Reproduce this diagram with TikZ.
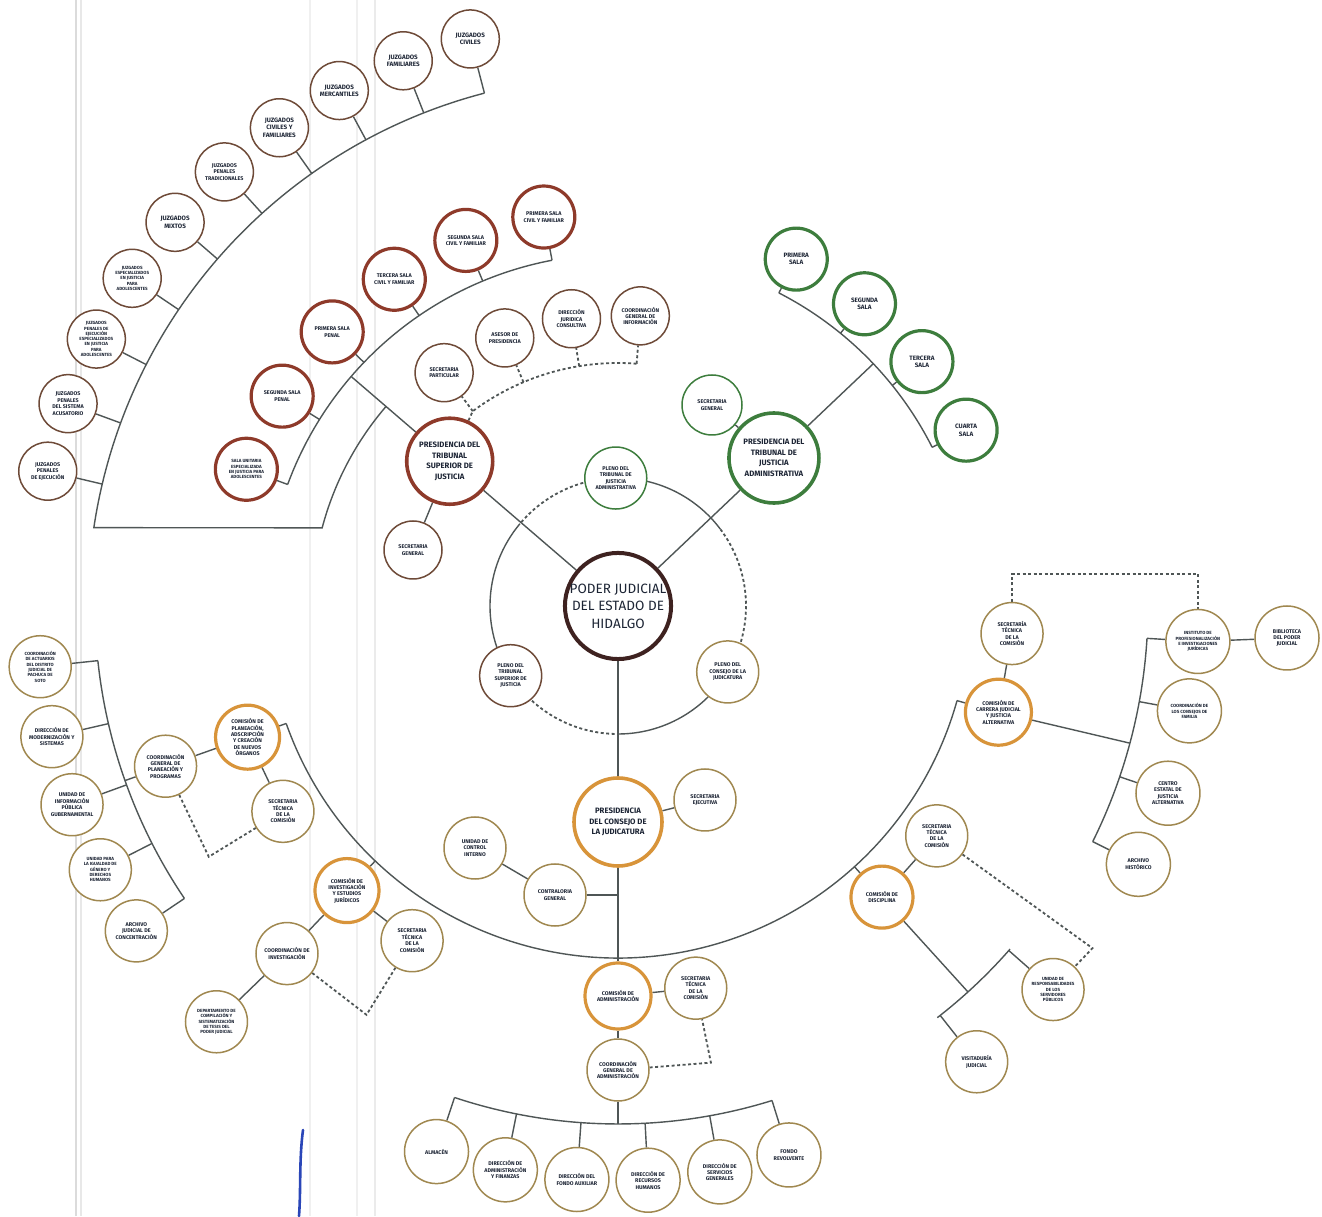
\documentclass[tikz,border=0pt]{standalone}
\usepackage{fontspec}
\setmainfont{Fira Sans}
\usetikzlibrary{calc}
\pgfdeclarelayer{bg}
\pgfsetlayers{bg,main}
\definecolor{cent}{HTML}{3E2220}
\definecolor{tsj}{HTML}{8E3A2A}
\definecolor{brn}{HTML}{6E4A38}
\definecolor{tja}{HTML}{3D7D3D}
\definecolor{cjo}{HTML}{D8943A}
\definecolor{cjl}{HTML}{A08850}
\definecolor{lin}{HTML}{4F5656}
\definecolor{txt}{HTML}{1D2535}
\definecolor{blu}{HTML}{2A46B8}
\newcommand{\ftA}{\fontsize{6.3}{7.4}\selectfont\bfseries}
\newcommand{\ftB}{\fontsize{5.4}{6.4}\selectfont\bfseries}
\newcommand{\ftC}{\fontsize{4.5}{5.3}\selectfont\bfseries}
\newcommand{\ftP}{\fontsize{7.8}{10.5}\selectfont\bfseries}
\newcommand{\ftK}{\fontsize{13.5}{17.5}\selectfont}
\tikzset{
 base/.style={circle, draw, fill=white, inner sep=0pt, align=center, text=txt, font=\ftA, line width=1.5pt, minimum size=60pt},
 juz/.style={base, draw=brn, minimum size=58pt},
 tsjs/.style={base, draw=tsj, line width=3.2pt, minimum size=62pt, font=\ftB},
 tsjt/.style={base, draw=brn, minimum size=58pt, font=\ftB},
 tjas/.style={base, draw=tja, line width=3.2pt, minimum size=62pt},
 tjat/.style={base, draw=tja, font=\ftB},
 cjc/.style={base, draw=cjo, line width=3.2pt, minimum size=64pt, font=\ftB},
 cjt/.style={base, draw=cjl, minimum size=62pt, font=\ftB},
 pres/.style={base, line width=3.6pt, font=\ftP},
 conn/.style={draw=lin, line width=1.4pt},
 dsh/.style={draw=lin, line width=1.8pt, dash pattern=on 3pt off 2.5pt},
 scan/.style={line width=2pt},
}
\begin{document}
\begin{tikzpicture}[x=1pt,y=1pt]
\useasboundingbox (0,0) rectangle (1322,1216);
\begin{pgfonlayer}{bg}
\fill[white] (0,0) rectangle (1322,1216);
\draw[scan, black!14] (76,0) -- (76,1216);
\draw[scan, black!9] (81,0) -- (81,1216);
\draw[scan, black!6] (310,0) -- (310,1216);
\draw[scan, black!6] (357,0) -- (357,1216);
\draw[scan, black!8] (375,0) -- (375,1216);
\end{pgfonlayer}
\coordinate (C) at (618,610);

% ---------- centre and plenos
\node[base, draw=cent, line width=4pt, minimum size=106pt, font=\ftK] (cen) at (C) {PODER JUDICIAL\\DEL ESTADO DE\\HIDALGO};
\node[tjat, minimum size=62pt] (pltja) at ($(C)+(91:128)$) {PLENO DEL\\TRIBUNAL DE\\JUSTICIA\\ADMINISTRATIVA};
\node[base, draw=brn, font=\ftB, minimum size=62pt] (pltsj) at ($(C)+(213:128)$) {PLENO DEL\\TRIBUNAL\\SUPERIOR DE\\JUSTICIA};
\node[cjt] (plcj) at ($(C)+(329:128)$) {PLENO DEL\\CONSEJO DE LA\\JUDICATURA};

% ---------- Tribunal Superior de Justicia
\node[pres, draw=tsj, minimum size=86pt] (ptsj) at ($(C)+(139.3:222)$) {PRESIDENCIA DEL\\TRIBUNAL\\SUPERIOR DE\\JUSTICIA};
\node[tsjt] (tsjsg) at (413,666) {SECRETARIA\\GENERAL};
\node[tsjt] (tsjsp) at ($(C)+(126.7:291)$) {SECRETARIA\\PARTICULAR};
\node[tsjt] (tsjas) at ($(C)+(112.9:291)$) {ASESOR DE\\PRESIDENCIA};
\node[tsjt] (tsjdj) at ($(C)+(99.2:291)$) {DIRECCIÓN\\JURIDICA\\CONSULTIVA};
\node[tsjt] (tsjci) at ($(C)+(85.6:291)$) {COORDINACIÓN\\GENERAL DE\\INFORMACIÓN};
\node[tsjs] (sa1) at ($(C)+(100.8:396)$) {PRIMERA SALA\\CIVIL Y FAMILIAR};
\node[tsjs] (sa2) at ($(C)+(112.6:396)$) {SEGUNDA SALA\\CIVIL Y FAMILIAR};
\node[tsjs] (sa3) at ($(C)+(124.4:396)$) {TERCERA SALA\\CIVIL Y FAMILIAR};
\node[tsjs] (sa4) at ($(C)+(136.2:396)$) {PRIMERA SALA\\PENAL};
\node[tsjs] (sa5) at ($(C)+(148:396)$) {SEGUNDA SALA\\PENAL};
\node[tsjs, font=\ftC] (sa6) at ($(C)+(159.8:396)$) {SALA UNITARIA\\ESPECIALIZADA\\EN JUSTICIA PARA\\ADOLESCENTES};
\node[juz] (j1) at ($(C)+(104.6:586)$) {JUZGADOS\\CIVILES};
\node[juz] (j2) at ($(C)+(111.5:586)$) {JUZGADOS\\FAMILIARES};
\node[juz] (j3) at ($(C)+(118.4:586)$) {JUZGADOS\\MERCANTILES};
\node[juz] (j4) at ($(C)+(125.3:586)$) {JUZGADOS\\CIVILES Y\\FAMILIARES};
\node[juz, font=\ftB] (j5) at ($(C)+(132.2:586)$) {JUZGADOS\\PENALES\\TRADICIONALES};
\node[juz] (j6) at ($(C)+(139.1:586)$) {JUZGADOS\\MIXTOS};
\node[juz, font=\ftC] (j7) at ($(C)+(146:586)$) {JUZGADOS\\ESPECIALIZADOS\\EN JUSTICIA\\PARA\\ADOLESCENTES};
\node[juz, font=\ftC] (j8) at ($(C)+(152.9:586)$) {JUZGADOS\\PENALES DE\\EJECUCIÓN\\ESPECIALIZADOS\\EN JUSTICIA\\PARA\\ADOLESCENTES};
\node[juz, font=\ftB] (j9) at ($(C)+(159.8:586)$) {JUZGADOS\\PENALES\\DEL SISTEMA\\ACUSATORIO};
\node[juz, font=\ftB] (j10) at ($(C)+(166.7:586)$) {JUZGADOS\\PENALES\\DE EJECUCIÓN};

% ---------- Tribunal de Justicia Administrativa
\node[pres, draw=tja, minimum size=90pt] (ptja) at ($(C)+(43.5:215)$) {PRESIDENCIA DEL\\TRIBUNAL DE\\JUSTICIA\\ADMINISTRATIVA};
\node[tjat] (tjasg) at (712,811) {SECRETARIA\\GENERAL};
\node[tjas] (ta1) at ($(C)+(62.8:390)$) {PRIMERA\\SALA};
\node[tjas] (ta2) at ($(C)+(50.8:390)$) {SEGUNDA\\SALA};
\node[tjas] (ta3) at ($(C)+(38.8:390)$) {TERCERA\\SALA};
\node[tjas] (ta4) at ($(C)+(26.8:390)$) {CUARTA\\SALA};

% ---------- Consejo de la Judicatura
\node[pres, draw=cjo, minimum size=88pt] (pcj) at ($(C)+(270:216)$) {PRESIDENCIA\\DEL CONSEJO DE\\LA JUDICATURA};
\node[cjt] (sej) at (705,416) {SECRETARIA\\EJECUTIVA};
\node[cjt] (contra) at (555,321) {CONTRALORIA\\GENERAL};
\node[cjt] (uci) at (475,368) {UNIDAD DE\\CONTROL\\INTERNO};
\coordinate (jc) at (618,321);

\node[cjc] (cplan) at ($(C)+(199.5:393)$) {COMISIÓN DE\\PLANEACIÓN,\\ADSCRIPCIÓN\\Y CREACIÓN\\DE NUEVOS\\ÓRGANOS};
\node[cjt] (cplsec) at ($(C)+(211.5:393)$) {SECRETARIA\\TÉCNICA\\DE LA\\COMISIÓN};
\node[cjt] (cgpp) at ($(C)+(199.5:480)$) {COORDINACIÓN\\GENERAL DE\\PLANEACIÓN Y\\PROGRAMAS};
\node[cjt, font=\ftC] (pb1) at ($(C)+(186:581)$) {COORDINACIÓN\\DE ACTUARIOS\\DEL DISTRITO\\JUDICIAL DE\\PACHUCA DE\\SOTO};
\node[cjt] (pb2) at ($(C)+(193:581)$) {DIRECCIÓN DE\\MODERNIZACIÓN Y\\SISTEMAS};
\node[cjt] (pb3) at ($(C)+(200:581)$) {UNIDAD DE\\INFORMACIÓN\\PÚBLICA\\GUBERNAMENTAL};
\node[cjt, font=\ftC] (pb4) at ($(C)+(207:581)$) {UNIDAD PARA\\LA IGUALDAD DE\\GÉNERO Y\\DERECHOS\\HUMANOS};
\node[cjt] (pb5) at ($(C)+(214:581)$) {ARCHIVO\\JUDICIAL DE\\CONCENTRACIÓN};

\node[cjc] (cinv) at ($(C)+(226.4:393)$) {COMISIÓN DE\\INVESTIGACIÓN\\Y ESTUDIOS\\JURÍDICOS};
\node[cjt] (cinvsec) at ($(C)+(238.4:393)$) {SECRETARIA\\TÉCNICA\\DE LA\\COMISIÓN};
\node[cjt] (coordinv) at ($(C)+(226.4:480)$) {COORDINACIÓN DE\\INVESTIGACIÓN};
\node[cjt, font=\ftC] (dep) at ($(C)+(226:578)$) {DEPARTAMENTO DE\\COMPILACIÓN Y\\SISTEMATIZACIÓN\\DE TESIS DEL\\PODER JUDICIAL};

\node[cjc, minimum size=66pt] (cadm) at ($(C)+(270:390)$) {COMISIÓN DE\\ADMINISTRACIÓN};
\node[cjt] (cadmsec) at ($(C)+(281.5:390)$) {SECRETARIA\\TÉCNICA\\DE LA\\COMISIÓN};
\node[cjt] (coordadm) at ($(C)+(270:464)$) {COORDINACIÓN\\GENERAL DE\\ADMINISTRACIÓN};
\node[cjt, minimum size=64pt] (ab1) at ($(C)+(251.6:575)$) {ALMACÉN};
\node[cjt, minimum size=64pt] (ab2) at ($(C)+(258.7:575)$) {DIRECCIÓN DE\\ADMINISTRACIÓN\\Y FINANZAS};
\node[cjt, minimum size=64pt] (ab3) at ($(C)+(265.9:575)$) {DIRECCIÓN DEL\\FONDO AUXILIAR};
\node[cjt, minimum size=64pt] (ab4) at ($(C)+(273:575)$) {DIRECCIÓN DE\\RECURSOS\\HUMANOS};
\node[cjt, minimum size=64pt] (ab5) at ($(C)+(280.2:575)$) {DIRECCIÓN DE\\SERVICIOS\\GENERALES};
\node[cjt, minimum size=64pt] (ab6) at ($(C)+(287.3:575)$) {FONDO\\REVOLVENTE};

\node[cjc, minimum size=62pt] (cdisc) at ($(C)+(312.2:393)$) {COMISIÓN DE\\DISCIPLINA};
\node[cjt] (discsec) at ($(C)+(324.2:393)$) {SECRETARIA\\TÉCNICA\\DE LA\\COMISIÓN};
\node[cjt] (visit) at ($(C)+(308.2:580)$) {VISITADURÍA\\JUDICIAL};
\node[cjt, font=\ftC] (urs) at ($(C)+(318.6:580)$) {UNIDAD DE\\RESPONSABILIDADES\\DE LOS\\SERVIDORES\\PÚBLICOS};

\node[cjc, minimum size=66pt] (ccarr) at ($(C)+(344.4:395)$) {COMISIÓN DE\\CARRERA JUDICIAL\\Y JUSTICIA\\ALTERNATIVA};
\node[cjt] (carrsec) at ($(C)+(356:395)$) {SECRETARÍA\\TÉCNICA\\DE LA\\COMISIÓN};
\node[cjt, minimum size=64pt] (cb1) at ($(C)+(333.6:581)$) {ARCHIVO\\HISTÓRICO};
\node[cjt, minimum size=64pt] (cb2) at ($(C)+(341.2:581)$) {CENTRO\\ESTATAL DE\\JUSTICIA\\ALTERNATIVA};
\node[cjt, minimum size=64pt, font=\ftC] (cb3) at ($(C)+(349.6:581)$) {COORDINACIÓN DE\\LOS CONSEJOS DE\\FAMILIA};
\node[cjt, minimum size=64pt, font=\ftC] (inst) at ($(C)+(356.5:581)$) {INSTITUTO DE\\PROFESIONALIZACIÓN\\E INVESTIGACIONES\\JURÍDICAS};
\node[cjt, minimum size=64pt] (bib) at (1287,578) {BIBLIOTECA\\DEL PODER\\JUDICIAL};

% ---------- connectors
\begin{pgfonlayer}{bg}
% ring
\draw[conn] ($(C)+(37:128)$) arc[start angle=37, end angle=91, radius=128];
\draw[dsh] ($(C)+(91:128)$) arc[start angle=91, end angle=140, radius=128];
\draw[conn] ($(C)+(140:128)$) arc[start angle=140, end angle=213, radius=128];
\draw[dsh] ($(C)+(213:128)$) arc[start angle=213, end angle=270, radius=128];
\draw[conn] ($(C)+(270:128)$) arc[start angle=270, end angle=329, radius=128];
\draw[dsh] ($(C)+(-31:128)$) arc[start angle=-31, end angle=37, radius=128];
% main trunks
\draw[conn] (cen) -- (ptsj);
\draw[conn] (ptsj) -- ($(C)+(139.3:352)$);
\draw[conn] (cen) -- (ptja);
\draw[conn] (ptja) -- ($(C)+(43.5:352)$);
\draw[conn] (cen) -- (pcj);
\draw[conn] (pcj) -- (cadm);
% TSJ
\draw[conn] (ptsj) -- (tsjsg);
\draw[dsh] (ptsj) -- ($(C)+(126.7:243)$) arc[start angle=126.7, end angle=85.6, radius=243];
\foreach \a/\n in {126.7/tsjsp, 112.9/tsjas, 99.2/tsjdj, 85.6/tsjci}
  \draw[dsh] ($(C)+(\a:243)$) -- (\n);
\draw[conn] ($(C)+(100.8:352)$) arc[start angle=100.8, end angle=159.8, radius=352];
\foreach \a/\n in {100.8/sa1, 112.6/sa2, 124.4/sa3, 136.2/sa4, 148/sa5, 159.8/sa6}
  \draw[conn] (\n) -- ($(C)+(\a:352)$);
\draw[conn] ($(C)+(139.3:306)$) arc[start angle=139.3, end angle=165.2, radius=306]
  -- ($(C)+(171.5:530)$) arc[start angle=171.5, end angle=104.6, radius=530];
\foreach \a/\n in {104.6/j1, 111.5/j2, 118.4/j3, 125.3/j4, 132.2/j5, 139.1/j6, 146/j7, 152.9/j8, 159.8/j9, 166.7/j10}
  \draw[conn] (\n) -- ($(C)+(\a:530)$);
% TJA
\draw[conn] (ptja) -- (tjasg);
\draw[conn] ($(C)+(26.8:352)$) arc[start angle=26.8, end angle=62.8, radius=352];
\foreach \a/\n in {62.8/ta1, 50.8/ta2, 38.8/ta3, 26.8/ta4}
  \draw[conn] (\n) -- ($(C)+(\a:352)$);
% CJ
\draw[conn] (pcj) -- (sej);
\draw[conn] (contra) -- (jc);
\draw[conn] (uci) -- (contra);
\draw[conn] ($(C)+(199.5:352)$) arc[start angle=199.5, end angle=344.4, radius=352];
\foreach \a/\n in {199.5/cplan, 226.4/cinv, 312.2/cdisc, 344.4/ccarr}
  \draw[conn] (\n) -- ($(C)+(\a:352)$);
% planeacion
\draw[conn] (cplan) -- (cplsec);
\draw[conn] (cplan) -- (cgpp);
\draw[conn] (cgpp) -- ($(C)+(199.5:523)$);
\draw[conn] ($(C)+(186:523)$) arc[start angle=186, end angle=214, radius=523];
\foreach \a/\n in {186/pb1, 193/pb2, 200/pb3, 207/pb4, 214/pb5}
  \draw[conn] (\n) -- ($(C)+(\a:523)$);
\draw[dsh] (cgpp) -- ($(C)+(211.5:480)$) -- (cplsec);
% investigacion
\draw[conn] (cinv) -- (cinvsec);
\draw[conn] (cinv) -- (coordinv);
\draw[conn] (coordinv) -- (dep);
\draw[dsh] (coordinv) -- ($(C)+(238.4:480)$) -- (cinvsec);
% administracion
\draw[conn] (cadm) -- (cadmsec);
\draw[conn] (cadm) -- (coordadm);
\draw[conn] (coordadm) -- ($(C)+(270:518)$);
\draw[conn] ($(C)+(251.6:518)$) arc[start angle=251.6, end angle=287.3, radius=518];
\foreach \a/\n in {251.6/ab1, 258.7/ab2, 265.9/ab3, 273/ab4, 280.2/ab5, 287.3/ab6}
  \draw[conn] (\n) -- ($(C)+(\a:518)$);
\draw[dsh] (coordadm) -- ($(C)+(281.5:466)$) -- (cadmsec);
% disciplina
\draw[conn] (cdisc) -- (discsec);
\draw[conn] (cdisc) -- ($(C)+(312.2:521)$);
\draw[conn] ($(C)+(307.8:521)$) arc[start angle=307.8, end angle=318.8, radius=521];
\draw[conn] (visit) -- ($(C)+(308.2:521)$);
\draw[conn] (urs) -- ($(C)+(318.6:521)$);
\draw[dsh] (discsec) -- ($(C)+(324.2:585)$) -- (urs);
% carrera
\draw[conn] (ccarr) -- (carrsec);
\draw[conn] (ccarr) -- ($(C)+(345:530)$);
\draw[conn] ($(C)+(333.6:530)$) arc[start angle=333.6, end angle=356.5, radius=530];
\foreach \a/\n in {333.6/cb1, 341.2/cb2, 349.6/cb3, 356.5/inst}
  \draw[conn] (\n) -- ($(C)+(\a:530)$);
\draw[conn] (inst) -- (bib);
\draw[dsh] (carrsec.north) -- ++(0,28) -| (inst.north);
\end{pgfonlayer}
% pen mark
\draw[blu, line width=2.6pt, line cap=round] (303,86) .. controls (299,56) and (301,26) .. (299,0);
\end{tikzpicture}
\end{document}
